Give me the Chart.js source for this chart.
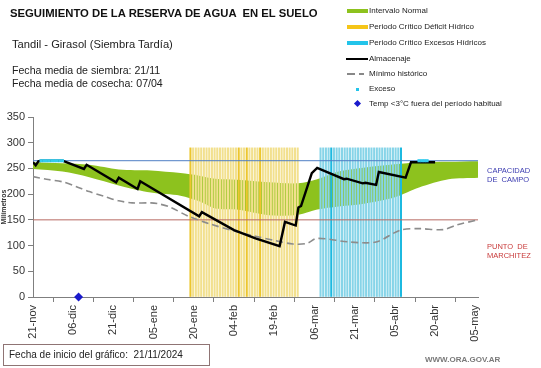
<!DOCTYPE html>
<html>
<head>
<meta charset="utf-8">
<script src="https://cdn.jsdelivr.net/npm/chart.js@4.4.1/dist/chart.umd.min.js"></script>
<style>
  body { margin: 0; background: #fff; }
  #marco { position: relative; width: 541px; height: 368px; font-family: "Liberation Sans", Arial, sans-serif; color: #111; overflow: hidden; }
  #grafico { position: absolute; left: 0; top: 0; }
  .txt { position: absolute; white-space: pre; }
  .leyenda { position: absolute; left: 369px; font-size: 8px; color: #222; white-space: pre; }
  .muestra { position: absolute; }
</style>
</head>
<body>
<div id="marco">
  <canvas id="grafico" width="541" height="368"></canvas>

  <div class="txt" style="left:10px; top:7px; font-size:11.3px; font-weight:bold;">SEGUIMIENTO DE LA RESERVA DE AGUA  EN EL SUELO</div>
  <div class="txt" style="left:12px; top:38px; font-size:11.2px; color:#222;">Tandil - Girasol (Siembra Tardía)</div>
  <div class="txt" style="left:12px; top:64px; font-size:10.6px; color:#222; line-height:12.5px;">Fecha media de siembra: 21/11
Fecha media de cosecha: 07/04</div>

  <!-- leyenda -->
  <div class="muestra" style="left:347px; top:9px; width:21px; height:4px; background:#8dc21e;"></div>
  <div class="leyenda" style="top:6px;">Intervalo Normal</div>
  <div class="muestra" style="left:347px; top:25px; width:21px; height:4px; background:#f5c518;"></div>
  <div class="leyenda" style="top:22px;">Periodo Crítico Déficit Hídrico</div>
  <div class="muestra" style="left:347px; top:41px; width:21px; height:4px; background:#22c4ea;"></div>
  <div class="leyenda" style="top:38px;">Periodo Crítico Excesos Hídricos</div>
  <div class="muestra" style="left:346px; top:58px; width:22px; height:2px; background:#000;"></div>
  <div class="leyenda" style="top:54px;">Almacenaje</div>
  <div class="muestra" style="left:347px; top:73px; width:8px; height:1.5px; background:#888;"></div>
  <div class="muestra" style="left:359px; top:73px; width:5px; height:1.5px; background:#888;"></div>
  <div class="leyenda" style="top:69px;">Mínimo histórico</div>
  <div class="muestra" style="left:356px; top:88px; width:3px; height:3px; background:#22c4ea;"></div>
  <div class="leyenda" style="top:84px;">Exceso</div>
  <div class="muestra" style="left:355px; top:101px; width:5px; height:5px; background:#1a1acc; transform:rotate(45deg);"></div>
  <div class="leyenda" style="top:99px;">Temp &lt;3°C fuera del período habitual</div>

  <!-- referencias a la derecha -->
  <div class="txt" style="left:487px; top:166px; font-size:7.5px; color:#3b3bb0; line-height:9px;">CAPACIDAD
DE  CAMPO</div>
  <div class="txt" style="left:487px; top:242px; font-size:7.5px; color:#c83a3a; line-height:9px;">PUNTO  DE
MARCHITEZ</div>

  <div class="txt" style="left:3px; top:344px; width:207px; height:22px; border:1px solid #8f7474; box-sizing:border-box;"></div>
  <div class="txt" style="left:9px; top:349px; font-size:10px; color:#222;">Fecha de inicio del gráfico:  21/11/2024</div>
  <div class="txt" style="left:425px; top:355px; font-size:8px; font-weight:bold; color:#7a7a7a;">WWW.ORA.GOV.AR</div>
</div>

<script>
// eje x: dias desde el 21/11
const diasEje = [0, 15, 30, 45, 60, 75, 90, 105, 120, 135, 150, 165];
const etiquetasEje = ['21-nov', '06-dic', '21-dic', '05-ene', '20-ene', '04-feb', '19-feb', '06-mar', '21-mar', '05-abr', '20-abr', '05-may'];

// intervalo normal (banda verde)
const diasBanda = [0, 11, 21, 32, 44, 55, 62, 68, 76, 88, 99, 106, 114, 124, 135, 144, 155, 166];
const bandaSuperior = [262, 260, 257, 248, 246, 241, 236, 230, 228, 223, 221, 229, 244, 252, 258, 262, 263, 264];
const bandaInferior = [249, 244, 233, 217, 203, 197, 186, 172, 170, 159, 160, 170, 176, 182, 194, 213, 229, 232];

// minimo historico
const diasMinimo = [0, 5, 11, 16, 21, 27, 32, 37, 44, 47, 51, 58, 66, 76, 83, 90, 97, 102, 106, 118, 128, 137, 144, 153, 158, 166];
const minimoHistorico = [234, 229, 224, 215, 205, 195, 187, 183, 183, 181, 175, 157, 142, 127, 118, 110, 103, 104, 114, 107, 107, 130, 133, 131, 140, 150];

// almacenaje
const diasAlmacenaje = [0, 1, 2, 3, 11, 19, 20, 31, 32, 39, 40, 62, 63, 75, 83, 92, 94, 98, 99, 100, 104, 106, 116, 117, 123, 124, 128, 129, 139, 141, 144, 150];
const almacenaje = [262, 256, 264, 265, 265, 249, 257, 223, 232, 210, 225, 157, 165, 130, 114, 99, 146, 139, 174, 177, 241, 251, 229, 230, 221, 222, 218, 243, 232, 262, 262, 262];

// exceso (puntos celestes)
const diasExceso = [3, 4, 5, 6, 7, 8, 9, 10, 11, 144, 145, 146, 147];
const valoresExceso = [265, 265, 265, 265, 265, 265, 265, 265, 265, 265, 265, 265, 265];

// periodos criticos
const diasDeficit = [59, 60, 61, 62, 63, 64, 65, 66, 67, 68, 69, 70, 71, 72, 73, 74, 75, 76, 77, 78, 79, 80, 81, 82, 83, 84, 85, 86, 87, 88, 89, 90, 91, 92, 93, 94, 95, 96, 97, 98, 99];
const diasDeficitFuerte = [59, 77, 80, 85];
const diasExcesoHidrico = [107, 108, 109, 110, 111, 112, 113, 114, 115, 116, 117, 118, 119, 120, 121, 122, 123, 124, 125, 126, 127, 128, 129, 130, 131, 132, 133, 134, 135, 136, 137];
const diasExcesoFuerte = [111, 137];
const alturaPeriodo = 290;

// temperatura < 3 grados
const diasHelada = [17];
const valoresHelada = [0];

const capacidadCampo = 265;
const puntoMarchitez = 150;

function puntos(dias, valores) {
    return dias.map((d, i) => ({ x: d, y: valores[i] }));
}

const ctx = document.getElementById('grafico').getContext('2d');
new Chart(ctx, {
    type: 'line',
    data: {
        datasets: [
            {
                label: 'Intervalo Normal',
                data: puntos(diasBanda, bandaSuperior),
                borderWidth: 0,
                pointRadius: 0,
                backgroundColor: '#8dc21e',
                fill: '+1',
                tension: 0.3,
                order: 10
            },
            {
                label: 'inferior',
                data: puntos(diasBanda, bandaInferior),
                borderWidth: 0,
                pointRadius: 0,
                fill: false,
                tension: 0.3,
                order: 10
            },
            {
                type: 'bar',
                label: 'Periodo Crítico Déficit Hídrico',
                data: diasDeficit.map(d => ({ x: d, y: alturaPeriodo })),
                backgroundColor: diasDeficit.map(d => diasDeficitFuerte.includes(d) ? '#ecc62e' : '#f2e08e'),
                barThickness: 1.4,
                order: 8
            },
            {
                type: 'bar',
                label: 'Periodo Crítico Excesos Hídricos',
                data: diasExcesoHidrico.map(d => ({ x: d, y: alturaPeriodo })),
                backgroundColor: diasExcesoHidrico.map(d => diasExcesoFuerte.includes(d) ? '#1cb9e0' : '#86d4e8'),
                barThickness: 1.4,
                order: 8
            },
            {
                label: 'Capacidad de campo',
                data: [{ x: 0, y: capacidadCampo }, { x: 166, y: capacidadCampo }],
                borderColor: '#4f7ec4',
                borderWidth: 1,
                pointRadius: 0,
                order: 6
            },
            {
                label: 'Punto de marchitez',
                data: [{ x: 0, y: puntoMarchitez }, { x: 166, y: puntoMarchitez }],
                borderColor: '#b86a62',
                borderWidth: 1,
                pointRadius: 0,
                order: 6
            },
            {
                label: 'Mínimo histórico',
                data: puntos(diasMinimo, minimoHistorico),
                borderColor: '#8c8c8c',
                borderWidth: 1.6,
                borderDash: [7, 4],
                pointRadius: 0,
                tension: 0.3,
                order: 5
            },
            {
                label: 'Almacenaje',
                data: puntos(diasAlmacenaje, almacenaje),
                borderColor: '#000',
                borderWidth: 2.4,
                pointRadius: 0,
                order: 3
            },
            {
                label: 'Exceso',
                data: puntos(diasExceso, valoresExceso),
                showLine: false,
                pointStyle: 'rect',
                pointRadius: 2.2,
                pointBorderWidth: 0,
                pointBackgroundColor: '#33cbee',
                order: 2
            },
            {
                label: 'Temp <3°C fuera del período habitual',
                data: puntos(diasHelada, valoresHelada),
                showLine: false,
                pointStyle: 'rectRot',
                pointRadius: 4.5,
                pointBorderWidth: 0,
                pointBackgroundColor: '#1a1acc',
                clip: false,
                order: 1
            }
        ]
    },
    options: {
        responsive: false,
        animation: false,
        layout: { padding: { top: 117, left: 0, right: 63, bottom: 0 } },
        plugins: {
            legend: { display: false },
            tooltip: { enabled: false }
        },
        scales: {
            x: {
                type: 'linear',
                min: 0,
                max: 166,
                offset: false,
                afterBuildTicks: (eje) => { eje.ticks = diasEje.map(v => ({ value: v })); },
                afterFit: (eje) => { eje.height = 71; },
                grid: { display: true, drawOnChartArea: false, drawTicks: true, tickLength: 5, color: '#7f7f7f' },
                border: { display: true, color: '#7f7f7f' },
                ticks: {
                    autoSkip: false,
                    minRotation: 90,
                    maxRotation: 90,
                    padding: 3,
                    color: '#333',
                    font: { family: 'Liberation Sans', size: 11 },
                    callback: (v) => etiquetasEje[diasEje.indexOf(v)] ?? ''
                }
            },
            y: {
                min: 0,
                max: 350,
                afterFit: (eje) => { eje.width = 33; },
                grid: { display: true, drawOnChartArea: false, drawTicks: true, tickLength: 5, color: '#7f7f7f' },
                border: { display: true, color: '#7f7f7f' },
                ticks: {
                    stepSize: 50,
                    padding: 3,
                    color: '#333',
                    font: { family: 'Liberation Sans', size: 11 }
                },
                title: {
                    display: true,
                    text: 'Milímetros',
                    padding: 0,
                    color: '#333',
                    font: { family: 'Liberation Sans', size: 7, weight: 'bold' }
                }
            }
        }
    }
});
</script>
</body>
</html>
